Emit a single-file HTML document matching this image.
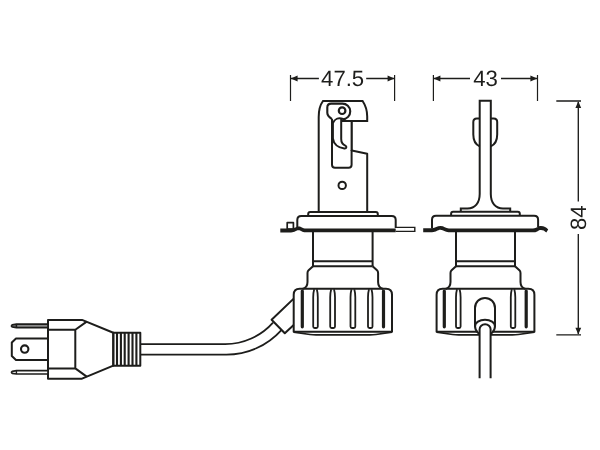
<!DOCTYPE html>
<html><head><meta charset="utf-8"><title>Lamp dimensions</title>
<style>
html,body{margin:0;padding:0;background:#fff;}
body{width:600px;height:450px;overflow:hidden;}
svg{display:block;}
.s{fill:none;stroke:#1d1d1b;stroke-width:2;stroke-linejoin:round;stroke-linecap:butt;}
.w{fill:#fff;stroke:#1d1d1b;stroke-width:2;stroke-linejoin:round;}
.t{fill:none;stroke:#1d1d1b;stroke-width:1.1;}
.d{fill:none;stroke:#1d1d1b;stroke-width:1.35;}
.k{fill:#1d1d1b;stroke:none;}
text{font-family:"Liberation Sans",sans-serif;font-size:22.2px;letter-spacing:-0.05px;fill:#1d1d1b;text-rendering:geometricPrecision;}
</style></head>
<body>
<svg width="600" height="450" viewBox="0 0 600 450">
<defs><filter id="nf" x="-5%" y="-5%" width="110%" height="110%" color-interpolation-filters="sRGB"><feOffset dx="0" dy="0"/></filter></defs>
<rect width="600" height="450" fill="#fff"/>

<!-- dimension 47.5 -->
<g id="dim475">
<path class="d" style="stroke-width:1.2" d="M290.5 75V101M394.6 75V101"/><path class="d" d="M291 78.5H318.9M366.2 78.5H394.5"/>
<path class="k" d="M290.8 78.5l6.8-2.9v5.8zM394.4 78.5l-6.8-2.9v5.8z"/>
<g filter="url(#nf)"><text transform="translate(342.6 86.1)" text-anchor="middle">47.5</text></g>
</g>

<!-- dimension 43 -->
<g id="dim43">
<path class="d" style="stroke-width:1.2" d="M433.4 75V101M537.5 75V101"/><path class="d" d="M433.5 78.5H470M501 78.5H537"/>
<path class="k" d="M433.6 78.5l6.8-2.9v5.8zM537.2 78.5l-6.8-2.9v5.8z"/>
<g filter="url(#nf)"><text transform="translate(485.5 86.1)" text-anchor="middle">43</text></g>
</g>

<!-- dimension 84 -->
<g id="dim84">
<path class="d" d="M556.3 101H581M556.3 334.8H581M578.3 102V201.5M578.3 234V334"/>
<path class="k" d="M578.3 101.2l-2.9 6.9h5.8zM578.3 334.6l-2.9-6.9h5.8z"/>
<g filter="url(#nf)"><text transform="translate(585.6 217.8) rotate(-90)" text-anchor="middle">84</text></g>
</g>

<!-- cable from plug to left lamp -->
<g id="cable">
<path class="s" style="stroke-width:1.8" d="M140.3 344.1H225A64 64 0 0 0 273 322.6"/>
<path class="s" style="stroke-width:1.8" d="M140.3 354.6H226A74 74 0 0 0 281.4 330.1"/>
<path class="s" d="M293.7 298.6L271.6 319.8L284.8 333.2L293.7 324.9"/>
</g>

<!-- plug -->
<g id="plug">
<path class="s" d="M48 319.9H82L113.3 332.7V365.7L82 378.7H48Z"/>
<path class="s" d="M48 329.7H75.3V368.4H48M75.3 329.7L86.7 321.6M75.3 368.4L86.7 376.6"/>
<rect class="s" x="113.3" y="332.7" width="27" height="33"/>
<path class="s" style="stroke-width:2.1" d="M117 332.5V365.9M120.9 332.5V365.9M124.7 332.5V365.9M128.6 332.5V365.9M132.5 332.5V365.9M136.4 332.5V365.9"/>
<path d="M48 324.2H16.5L12.2 324.9Q10.8 325.9 12.2 326.9L16.5 327.6H48Z" fill="#8a8a8a" stroke="#1d1d1b" stroke-width="1.7" stroke-linejoin="round"/>
<path class="s" style="stroke-width:1.6" d="M16.4 324.2V327.6"/>
<path d="M48 370.7H16.5L12.2 371.4Q10.8 372.35 12.2 373.3L16.5 374H48Z" fill="#fff" stroke="#1d1d1b" stroke-width="1.7" stroke-linejoin="round"/>
<path class="s" style="stroke-width:1.4" d="M16.4 370.8V374"/>
<path class="s" d="M48 338.5H16L11.8 342.5V356L16 360H48"/>
<circle class="s" style="stroke-width:2.1" cx="24.7" cy="349.1" r="3.7"/>
</g>

<!-- left lamp -->
<g id="lampL">
<path class="s" style="stroke-linejoin:miter" d="M318.7 212V117C318.7 110 320.4 104.5 323 101H362.6C365.6 105.5 367.2 111 367.2 116.5V121H341"/>
<path class="s" d="M367.2 212V153.8L351.8 150.6"/><path class="s" style="stroke-width:2.2" d="M351.7 121V151"/>
<path class="s" d="M332 119V164.7Q332 167.7 335 167.7H348.6Q351.6 167.7 351.6 164.7V150"/>
<path class="s" style="stroke-width:2.1" d="M332 119.2C329.3 117.4 327.3 115.8 327.3 112.8V107.5Q327.3 103.6 331.2 103.6H342.2A7.85 7.85 0 0 1 342.6 119.3"/>
<path class="s" d="M343 119C338.5 117.4 334.4 119 332.9 123.2V138.5C333.6 144 338 147.8 344.3 148.5C346.6 148.8 347 146.4 345.3 145.6C343 144.6 341.2 143 341.2 139V119.5"/>
<circle class="s" style="stroke-width:2.2" cx="342.1" cy="110.7" r="3.3"/>
<circle class="s" cx="342.2" cy="185.4" r="3.7"/>
<!-- collar -->
<path class="s" d="M308.2 216V214Q308.2 212 310.2 212H375.8Q377.8 212 377.8 214V216"/>
<!-- cap -->
<path class="s" d="M297.3 228V220Q297.3 216 301.3 216H391.7Q395.7 216 395.7 220V228"/>
<!-- tab -->
<rect class="s" style="stroke-width:1.7" x="287.2" y="222.7" width="6.2" height="6.5"/>
<path class="s" style="stroke-width:1.4;stroke-linejoin:miter" d="M395.7 227.4H414.8V231.4H395.7"/>
<!-- plate -->
<path class="k" d="M280.3 228.5H291C295 228.5 296 226.5 298.7 226.5C301.5 226.5 302.5 228.6 306 228.6H395.7V232.3H305.5C302 232.3 301 230.2 298.5 230.2C296 230.2 295 232.4 291 232.4H280.3Z"/>
<!-- neck -->
<path class="s" d="M313 232V266.2M372.6 232V266.2M313 261.2H372.6M313 266.2H372.6"/>
<!-- shoulder -->
<path class="s" d="M313 266.2L308.6 270.2Q307.5 271.2 307.5 273V282C307.5 285.5 306 288 302.5 289"/>
<path class="s" d="M372.6 266.2L377 270.2Q378.1 271.2 378.1 273V282C378.1 285.5 379.6 288 383.1 289"/>
<!-- base -->
<path class="s" d="M293.7 331.8V294.7Q293.7 288.7 299.7 288.7H386Q392 288.7 392 294.7V331.8Z"/>
<path class="s" style="stroke-width:1.7" d="M293.7 332.2L310 334.5Q313 334.9 316 334.9H370Q373 334.9 376 334.5L392 332.2"/>
<path class="s" style="stroke-width:3.2;stroke-linecap:round" d="M302.3 291V326.8M383.5 291V326.8"/>
<path class="s" style="stroke-width:1.8" d="M314.2 289.2Q313.2 292.7 313.2 297.2V326.5Q313.2 328.0 314.7 328.0H316.3Q317.8 328.0 317.8 326.5V297.2Q317.8 292.7 316.8 289.2M331.2 289.2Q330.2 292.7 330.2 297.2V326.5Q330.2 328.0 331.7 328.0H333.5Q335.0 328.0 335.0 326.5V297.2Q335.0 292.7 334.0 289.2M351.5 289.2Q350.5 292.7 350.5 297.2V326.5Q350.5 328.0 352.0 328.0H353.8Q355.3 328.0 355.3 326.5V297.2Q355.3 292.7 354.3 289.2M369.0 289.2Q368.0 292.7 368.0 297.2V326.5Q368.0 328.0 369.5 328.0H371.0Q372.5 328.0 372.5 326.5V297.2Q372.5 292.7 371.5 289.2"/>
</g>

<!-- right lamp -->
<g id="lampR">
<path class="s" style="stroke-linejoin:miter" d="M460.8 211.7V208.4H467.5C475 208.4 479.7 203 479.7 194V100.8H490.8V194C490.8 203 495.5 208.4 503 208.4H510.2V211.7"/>
<path class="s" d="M479.7 118.4H476.8Q473.3 118.4 473.3 121.9V134.5C473.3 140.5 475.5 144.5 479.7 146.3"/>
<path class="s" d="M490.8 118.4H493.7Q497.2 118.4 497.2 121.9V134.5C497.2 140.5 495 144.5 490.8 146.3"/>
<path class="s" d="M451.1 215.8V213.7Q451.1 211.7 453.1 211.7H517.8Q519.8 211.7 519.8 213.7V215.8"/>
<path class="s" d="M432 228.5V219.8Q432 215.8 436 215.8H534.1Q538.1 215.8 538.1 219.8V227"/>
<path class="k" d="M423.2 228.2H432C435.5 228.2 437 226.1 440.5 226.1C444 226.1 445.5 228.4 449 228.4H533C537 228.4 538 226.1 541 226.1C544 226.1 546.5 227.5 548.2 229.5L546.3 232.6C544.5 230.8 543 230 541 230C538 230 537.5 232.3 534 232.3H448.5C445 232.3 443.5 229.8 440.5 229.8C437.5 229.8 436 232.2 432 232.2H423.2Z"/>
<path class="s" d="M456 232V266.2M515 232V266.2M456 261.2H515M456 266.2H515"/>
<path class="s" d="M456 266.2L451.6 270.2Q450.5 271.2 450.5 273V282C450.5 285.5 449 288 445.5 289"/>
<path class="s" d="M515 266.2L519.4 270.2Q520.5 271.2 520.5 273V282C520.5 285.5 522 288 525.5 289"/>
<path class="s" d="M436.6 331.8V294.7Q436.6 288.7 442.6 288.7H528.4Q534.4 288.7 534.4 294.7V331.8Z"/>
<path class="s" style="stroke-width:1.7" d="M436.6 332.2L452.6 334.5Q455.6 334.9 458.6 334.9H512.4Q515.4 334.9 518.4 334.5L534.4 332.2"/>
<path class="s" style="stroke-width:3.2;stroke-linecap:round" d="M444.3 291V326.8M526.2 291V326.8"/>
<path class="s" style="stroke-width:1.8" d="M457.0 289.2Q456.0 292.7 456.0 297.2V326.5Q456.0 328.0 457.5 328.0H459.1Q460.6 328.0 460.6 326.5V297.2Q460.6 292.7 459.6 289.2M511.8 289.2Q510.8 292.7 510.8 297.2V326.5Q510.8 328.0 512.3 328.0H513.8Q515.3 328.0 515.3 326.5V297.2Q515.3 292.7 514.3 289.2"/>
<path class="w" d="M475 326V307.9A10 10 0 0 1 495 307.9V326A10 9.5 0 0 1 475 326Z"/>
<path class="s" d="M475 326.5A10 6.8 0 0 1 495 326.5"/>
<path class="w" d="M479.6 378.3V329.2A5.5 5 0 0 1 490.6 329.2V378.3" />
</g>
</svg>
</body></html>
